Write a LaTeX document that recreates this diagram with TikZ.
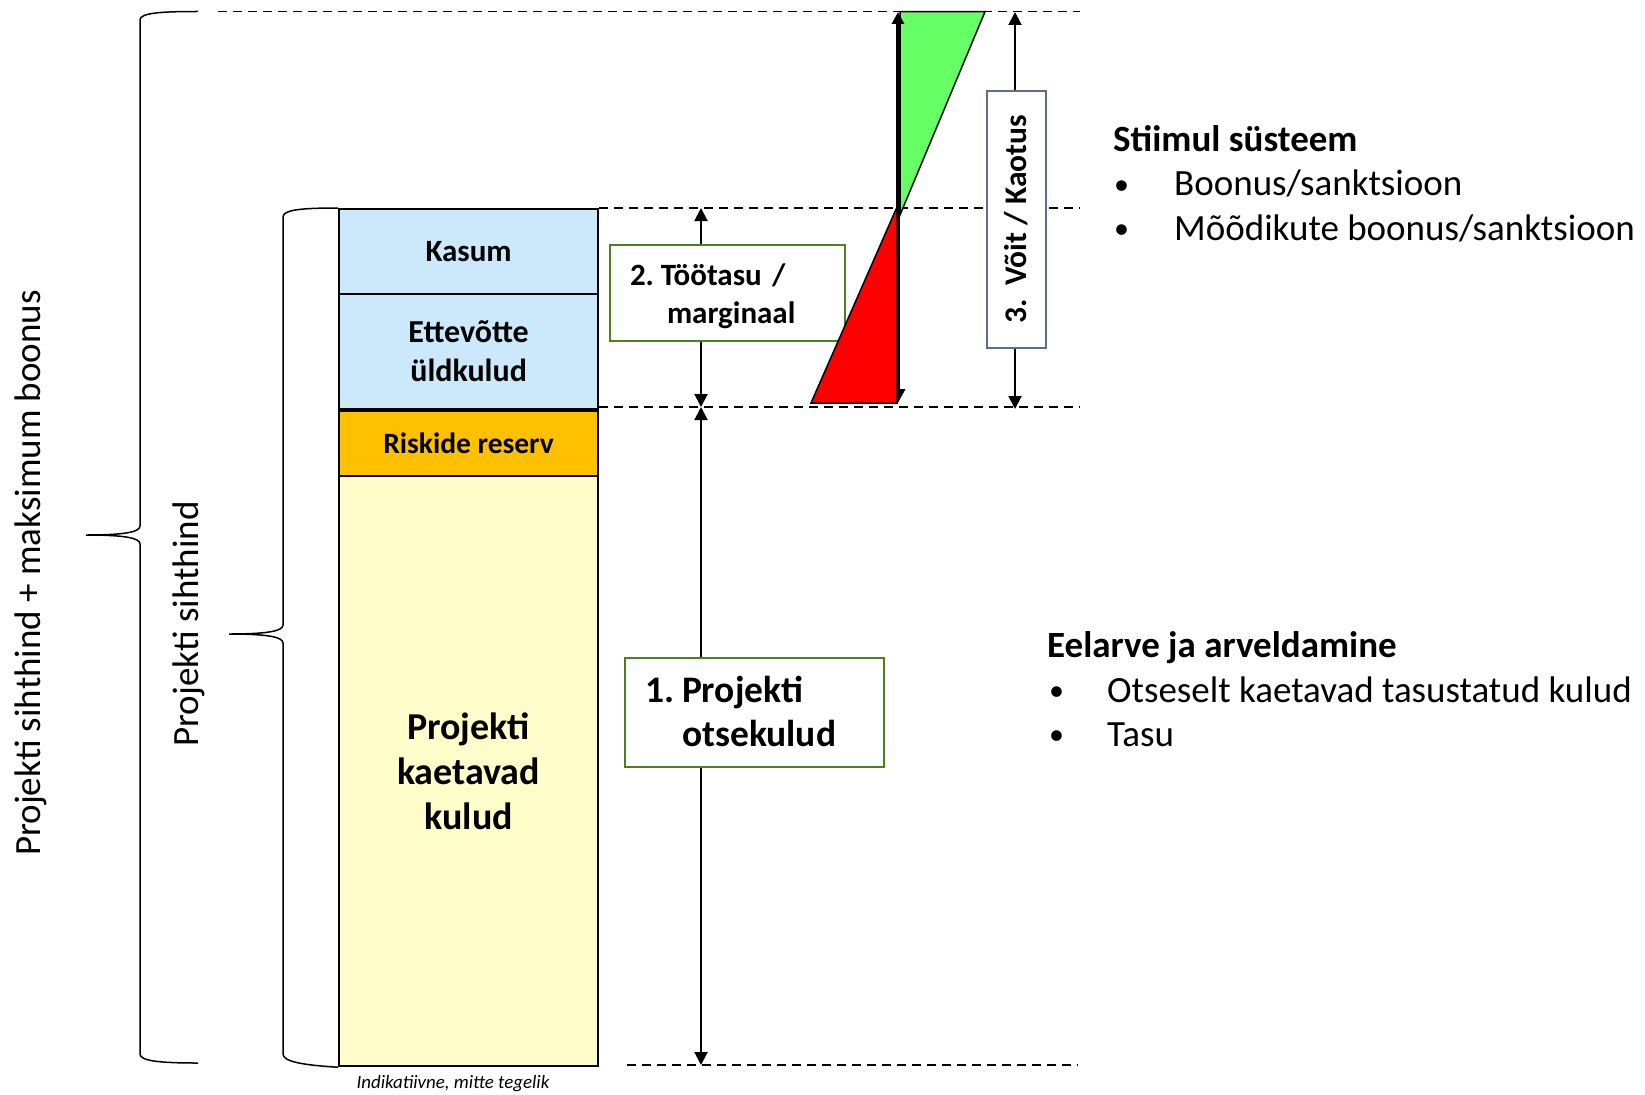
\documentclass[tikz,border=0pt]{standalone}
\usepackage{fontspec}
\setmainfont{Carlito}
\usetikzlibrary{arrows.meta}
\definecolor{kblue}{HTML}{CCE9FB}
\definecolor{korange}{HTML}{FFC000}
\definecolor{kyellow}{HTML}{FFFDC9}
\definecolor{kgreenline}{HTML}{4F7F1F}
\definecolor{kgreentri}{HTML}{66FF66}
\definecolor{kred}{HTML}{FF0000}
\definecolor{kslate}{HTML}{5D6E8A}
\begin{document}
\begin{tikzpicture}[x=1pt,y=-1pt,
  colbox/.style={draw=black, line width=2.2pt, minimum width=259pt, anchor=north west,
    inner sep=0pt, align=center, font=\bfseries\fontsize{30}{39}\selectfont},
  dimarrow/.style={line width=2pt, {Triangle[width=13pt,length=13pt]}-{Triangle[width=13pt,length=13pt]}},
  thickarrow/.style={line width=3.5pt, {Triangle[width=14pt,length=14pt]}-{Triangle[width=12pt,length=12pt]}},
  guide/.style={line width=1.8pt, dash pattern=on 9pt off 6pt},
  bracepath/.style={line width=1.5pt},
  lblbox/.style={draw=kgreenline, line width=2pt, fill=white, inner ysep=0pt, inner xsep=20pt, align=left},
  plain/.style={inner sep=0pt, anchor=base west, font=\fontsize{37}{45}\selectfont},
  bul/.style={inner sep=0pt, anchor=base west, font=\fontsize{30}{36}\selectfont},
  tri/.style={draw=black, line width=1.5pt, line join=miter}
]
\useasboundingbox (0,0) rectangle (1645,1094);

% column
\node[colbox, fill=kblue, minimum height=85pt, font=\bfseries\fontsize{31}{39}\selectfont] (kasum) at (338,208) {Kasum};
\node[colbox, fill=kblue, minimum height=115pt, font=\bfseries\fontsize{32}{39}\selectfont] (ettev) at (338,293) {Ettevõtte\\üldkulud};
\node[colbox, fill=korange, minimum height=65pt, font=\bfseries\fontsize{29.5}{38}\selectfont] (risk) at (338,410) {Riskide reserv};
\node[colbox, fill=kyellow, minimum height=590pt, font=\bfseries\fontsize{38}{45}\selectfont] (proj) at (338,475) {Projekti\\kaetavad\\kulud};

% guide lines
\coordinate (g0l) at (218,11.5);  \coordinate (g0r) at (1080,11.5);
\coordinate (g1l) at (599,208);   \coordinate (g1r) at (1080,208);
\coordinate (g2l) at (599,407);   \coordinate (g2r) at (1080,407);
\coordinate (g3l) at (627,1065);  \coordinate (g3r) at (1078,1065);
\draw[guide] (g0l) -- (g0r);
\draw[guide] (g1l) -- (g1r);
\draw[guide] (g2l) -- (g2r);
\draw[guide] (g3l) -- (g3r);

% braces
\draw[bracepath] (198,11.5) .. controls (160,11.5) and (140,13) .. (140,20) -- (140,526)
  .. controls (140,532) and (125,535) .. (86,535) .. controls (125,535) and (140,538) .. (140,544)
  -- (140,1054) .. controls (140,1061) and (160,1063) .. (198,1063);
\draw[bracepath] (kasum.north west) .. controls (300,208) and (283,210) .. (283,217) -- (283,625)
  .. controls (283,631) and (268,634) .. (229,634) .. controls (268,634) and (283,637) .. (283,643)
  -- (283,1054) .. controls (283,1061) and (300,1065) .. (proj.south west);

\node[rotate=90, inner sep=0pt, font=\fontsize{37}{45}\selectfont] (lblmax) at (31,573) {Projekti sihthind + maksimum boonus};
\node[rotate=90, inner sep=0pt, font=\fontsize{37}{45}\selectfont] (lblsiht) at (189,624) {Projekti sihthind};

% dimension arrows
\coordinate (a0) at (701,208);
\coordinate (a1) at (701,407);
\coordinate (a2) at (701,1065);
\draw[dimarrow] (a0) -- (a1);
\draw[dimarrow] (a1) -- (a2);

\node[lblbox, minimum width=235pt, minimum height=96pt, text width=195pt,
  font=\bfseries\fontsize{31}{38}\selectfont] (box2) at (727.5,293)
  {\raisebox{-4pt}[\height][\depth]{\begin{tabular}{@{}l@{\hspace{7pt}}l@{}}2. & Töötasu /\\ & \hspace{6pt}marginaal\end{tabular}}};
\node[lblbox, minimum width=259pt, minimum height=109pt, text width=219pt,
  font=\bfseries\fontsize{37.5}{44}\selectfont] (box1) at (754.5,712.5)
  {\raisebox{-3pt}[\height][\depth]{\begin{tabular}{@{}l@{\hspace{8pt}}l@{}}1. & Projekti\\ & otsekulud\end{tabular}}};

% triangles and thick arrow
\coordinate (t0) at (898,12);
\coordinate (t1) at (898,403);
\filldraw[tri, fill=kgreentri] (900,11.7) -- (985,11.7) -- (900,215) -- cycle;
\draw[thickarrow] (t1) -- (t0);
\filldraw[tri, fill=kred] (897,207) -- (897,403) -- (811,403) -- cycle;

% right arrow and box 3
\coordinate (r0) at (1015,12);
\coordinate (r1) at (1015,409);
\draw[dimarrow] (r0) -- (r1);
\node[draw=kslate, line width=2.5pt, fill=white, rotate=90, minimum width=257pt, minimum height=59pt,
  inner sep=0pt, font=\bfseries\fontsize{31.5}{38}\selectfont] (box3) at (1016.5,219.5) {3.\ \ Võit / Kaotus};

% right texts
\node[plain, font=\bfseries\fontsize{37}{45}\selectfont] (stiimul) at (1113,152) {Stiimul süsteem};
\node[bul] (sb1) at (1114,194) {•};
\node[plain] (st1) at (1174,196) {Boonus/sanktsioon};
\node[bul] (sb2) at (1114,238) {•};
\node[plain] (st2) at (1174,240) {Mõõdikute boonus/sanktsioon};

\node[plain, font=\bfseries\fontsize{37}{45}\selectfont] (eelarve) at (1047,657) {Eelarve ja arveldamine};
\node[bul] (eb1) at (1049,700) {•};
\node[plain] (et1) at (1107,702) {Otseselt kaetavad tasustatud kulud};
\node[bul] (eb2) at (1049,744) {•};
\node[plain] (et2) at (1107,746) {Tasu};

\node[inner sep=0pt, font=\itshape\fontsize{18.9}{22}\selectfont] (note) at (453,1084) {Indikatiivne, mitte tegelik};
\end{tikzpicture}
\end{document}
